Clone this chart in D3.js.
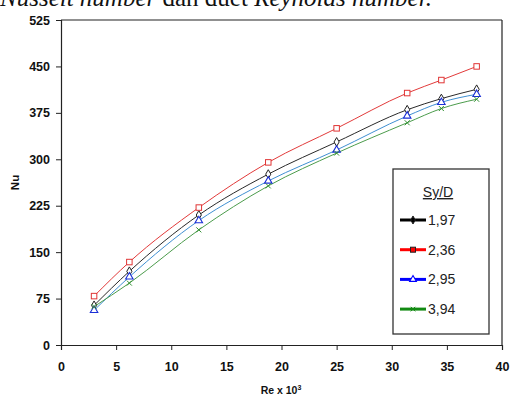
<!DOCTYPE html>
<html><head><meta charset="utf-8">
<script src="https://cdn.jsdelivr.net/npm/d3@7"></script>
<style>body{margin:0;background:#fff}svg{display:block}</style>
</head><body>
<script>
const reValues = [3.0, 6.2, 12.5, 18.8, 25.0, 31.4, 34.5, 37.7];
const seriesNames = ["1,97", "2,36", "2,95", "3,94"];
const nu197 = [64, 119, 210, 276, 328, 380, 398, 413];
const nu236 = [79, 134, 222, 295, 350, 407, 428, 450];
const nu295 = [56, 110, 201, 265, 315, 370, 392, 405];
const nu394 = [62, 100, 186, 257, 310, 359, 382, 397];
const xTicks = [0, 5, 10, 15, 20, 25, 30, 35, 40];
const yTicks = [0, 75, 150, 225, 300, 375, 450, 525];

const series = [
  {name: seriesNames[0], vals: nu197, line: "#2a2a2a", mark: "#222", leg: "#000", sym: "diamond"},
  {name: seriesNames[1], vals: nu236, line: "#e23a3a", mark: "#e03535", leg: "#ff0000", sym: "square"},
  {name: seriesNames[2], vals: nu295, line: "#3f8fd2", mark: "#1b2fd6", leg: "#0000ff", sym: "triangle"},
  {name: seriesNames[3], vals: nu394, line: "#4c9c4c", mark: "#2f8f2f", leg: "#138a13", sym: "cross"}
];

const W = 510, H = 401;
const svg = d3.select("body").append("svg").attr("width", W).attr("height", H);

// Partial caption at top (cut off by the page edge, as in the reference)
const cap = svg.append("text").attr("x", 0).attr("y", 6)
  .attr("font-family", "Liberation Serif, serif").attr("font-size", 25).attr("fill", "#111");
cap.append("tspan").attr("font-style", "italic").text("Nusselt number");
cap.append("tspan").text(" dan duet ");
cap.append("tspan").attr("font-style", "italic").text("Reynolds number.");

const x = d3.scaleLinear().domain([0, 40]).range([61, 502]);
const y = d3.scaleLinear().domain([0, 525]).range([345, 20]);

const axFont = "Liberation Sans, Arial, sans-serif";

// frame top/right
svg.append("line").attr("x1", x(0)).attr("x2", x(40)).attr("y1", y(525)).attr("y2", y(525)).attr("stroke", "#222").attr("stroke-width", 1.2);
svg.append("line").attr("x1", x(40)).attr("x2", x(40)).attr("y1", y(525)).attr("y2", y(0)).attr("stroke", "#222").attr("stroke-width", 1.2);

const gx = svg.append("g").attr("transform", `translate(0,${y(0)})`)
  .call(d3.axisBottom(x).tickValues(xTicks).tickSize(5).tickPadding(12).tickFormat(d3.format("d")));
const gy = svg.append("g").attr("transform", `translate(${x(0)},0)`)
  .call(d3.axisLeft(y).tickValues(yTicks).tickSize(5).tickPadding(6).tickFormat(d3.format("d")));
[gx, gy].forEach(g => {
  g.select(".domain").attr("stroke", "#222").attr("stroke-width", 1.2);
  g.selectAll(".tick line").attr("stroke", "#222");
  g.selectAll("text").attr("font-family", axFont).attr("font-weight", "bold").attr("font-size", 12.5).attr("fill", "#111");
});

svg.append("text").attr("transform", `translate(19,${(y(0)+y(525))/2}) rotate(-90)`)
  .attr("text-anchor", "middle").attr("font-family", axFont).attr("font-weight", "bold").attr("font-size", 11.5).attr("fill", "#111").text("Nu");
const xl = svg.append("text").attr("x", 281).attr("y", 394).attr("text-anchor", "middle")
  .attr("font-family", axFont).attr("font-weight", "bold").attr("font-size", 10.5).attr("fill", "#111");
xl.append("tspan").text("Re x 10");
xl.append("tspan").attr("font-size", 7).attr("dy", -4).text("3");

const line = d3.line().x((d, i) => x(reValues[i])).y(d => y(d)).curve(d3.curveMonotoneX);

function marker(g, sym, cx, cy, color, s, fill) {
  if (sym === "square") {
    g.append("rect").attr("x", cx - s/2).attr("y", cy - s/2).attr("width", s).attr("height", s)
      .attr("fill", fill || "#fff").attr("stroke", color).attr("stroke-width", 1);
  } else if (sym === "diamond") {
    g.append("path").attr("d", d3.symbol(d3.symbolDiamond, s*s*0.75)()).attr("transform", `translate(${cx},${cy})`)
      .attr("fill", fill || "#fff").attr("stroke", color).attr("stroke-width", 1);
  } else if (sym === "triangle") {
    g.append("path").attr("d", d3.symbol(d3.symbolTriangle, s*s*0.8)()).attr("transform", `translate(${cx},${cy})`)
      .attr("fill", fill || "#fff").attr("stroke", color).attr("stroke-width", 1.1);
  } else {
    g.append("path").attr("d", d3.symbol(d3.symbolX, s*s*0.6)()).attr("transform", `translate(${cx},${cy})`)
      .attr("fill", "none").attr("stroke", color).attr("stroke-width", 1);
  }
}

const plot = svg.append("g");
series.forEach(s => {
  plot.append("path").datum(s.vals).attr("d", line).attr("fill", "none").attr("stroke", s.line).attr("stroke-width", 1);
});
series.forEach(s => {
  const g = plot.append("g");
  s.vals.forEach((v, i) => marker(g, s.sym, x(reValues[i]), y(v), s.mark, 5.5));
});

// Legend
const lg = svg.append("g");
lg.append("rect").attr("x", 393).attr("y", 169).attr("width", 96).attr("height", 165)
  .attr("fill", "#fff").attr("stroke", "#333").attr("stroke-width", 1.3);
lg.append("text").attr("x", 438).attr("y", 197).attr("text-anchor", "middle")
  .attr("font-family", "Liberation Sans Narrow, Liberation Sans, Arial, sans-serif").attr("font-size", 14).attr("fill", "#222")
  .attr("text-decoration", "underline").text("Sy/D");
series.forEach((s, i) => {
  const ly = 220 + i * 29.7;
  lg.append("line").attr("x1", 400).attr("x2", 426).attr("y1", ly).attr("y2", ly).attr("stroke", s.leg).attr("stroke-width", 3);
  marker(lg, s.sym, 413, ly, s.sym === "cross" ? s.leg : (s.sym === "triangle" ? s.leg : "#222"), 5, s.sym === "triangle" ? "#fff" : s.leg);
  lg.append("text").attr("x", 428).attr("y", ly + 5).attr("font-family", "Liberation Sans Narrow, Liberation Sans, Arial, sans-serif")
    .attr("font-size", 14).attr("fill", "#222").text(s.name);
});
</script>
</body></html>
